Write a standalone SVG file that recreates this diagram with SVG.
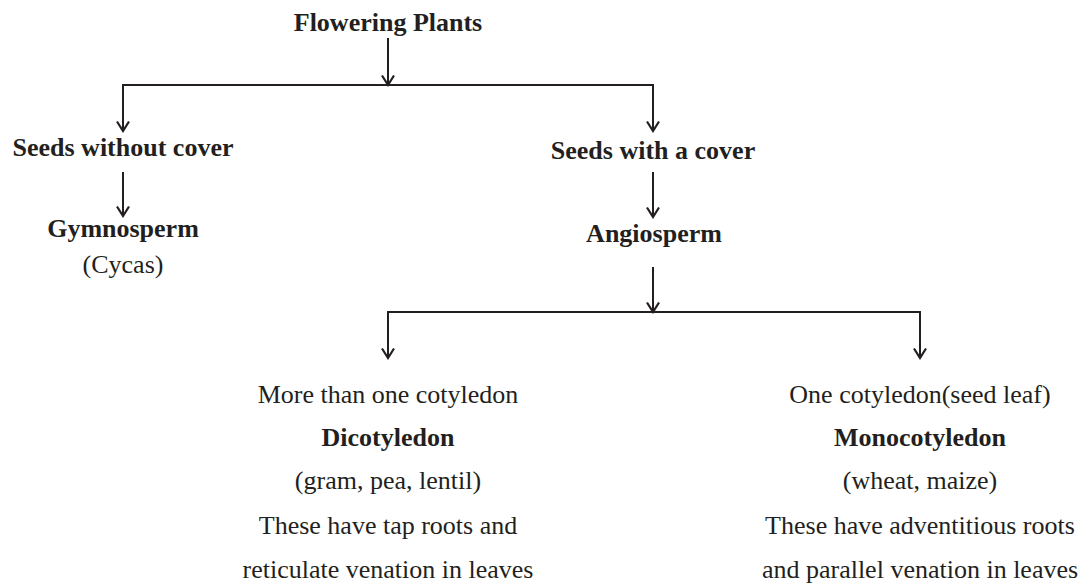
<svg xmlns="http://www.w3.org/2000/svg" width="1083" height="584" viewBox="0 0 1083 584">
<defs>
<marker id="arr" viewBox="-1 -1 13 14" refX="10" refY="6" markerWidth="13" markerHeight="14" markerUnits="userSpaceOnUse" orient="auto">
<path d="M0.5,0 L10,6 L0.5,12" fill="none" stroke="#231f20" stroke-width="2.2"/>
</marker>
<style>
text{font-family:"Liberation Serif","Times New Roman",serif;font-size:26px;fill:#231f20;text-anchor:middle}
.b{font-weight:bold}
.c{fill:none;stroke:#231f20;stroke-width:2}
</style>
</defs>
<rect width="1083" height="584" fill="#fff"/>
<g id="connectors">
<line class="c" x1="388" y1="38" x2="388" y2="85" marker-end="url(#arr)"/>
<path class="c" d="M123,85 H653"/>
<line class="c" x1="123" y1="84" x2="123" y2="131" marker-end="url(#arr)"/>
<line class="c" x1="653" y1="84" x2="653" y2="131" marker-end="url(#arr)"/>
<line class="c" x1="123" y1="172" x2="123" y2="216" marker-end="url(#arr)"/>
<line class="c" x1="653" y1="172" x2="653" y2="217" marker-end="url(#arr)"/>
<line class="c" x1="653" y1="267" x2="653" y2="312" marker-end="url(#arr)"/>
<path class="c" d="M388,312 H920"/>
<line class="c" x1="388" y1="311" x2="388" y2="358" marker-end="url(#arr)"/>
<line class="c" x1="920" y1="311" x2="920" y2="358" marker-end="url(#arr)"/>
</g>
<g id="flowering"><text class="b" x="388" y="31">Flowering Plants</text></g>
<g id="without"><text class="b" x="123" y="156">Seeds without cover</text></g>
<g id="with"><text class="b" x="653" y="159">Seeds with a cover</text></g>
<g id="gymnosperm"><text class="b" x="123" y="237">Gymnosperm</text><text x="123" y="273">(Cycas)</text></g>
<g id="angiosperm"><text class="b" x="654" y="242">Angiosperm</text></g>
<g id="dicot">
<text x="388" y="403">More than one cotyledon</text>
<text class="b" x="388" y="446">Dicotyledon</text>
<text x="388" y="489">(gram, pea, lentil)</text>
<text x="388" y="534">These have tap roots and</text>
<text x="388" y="578">reticulate venation in leaves</text>
</g>
<g id="monocot">
<text x="920" y="403">One cotyledon(seed leaf)</text>
<text class="b" x="920" y="446">Monocotyledon</text>
<text x="920" y="489">(wheat, maize)</text>
<text x="920" y="534">These have adventitious roots</text>
<text x="920" y="578">and parallel venation in leaves</text>
</g>
</svg>
